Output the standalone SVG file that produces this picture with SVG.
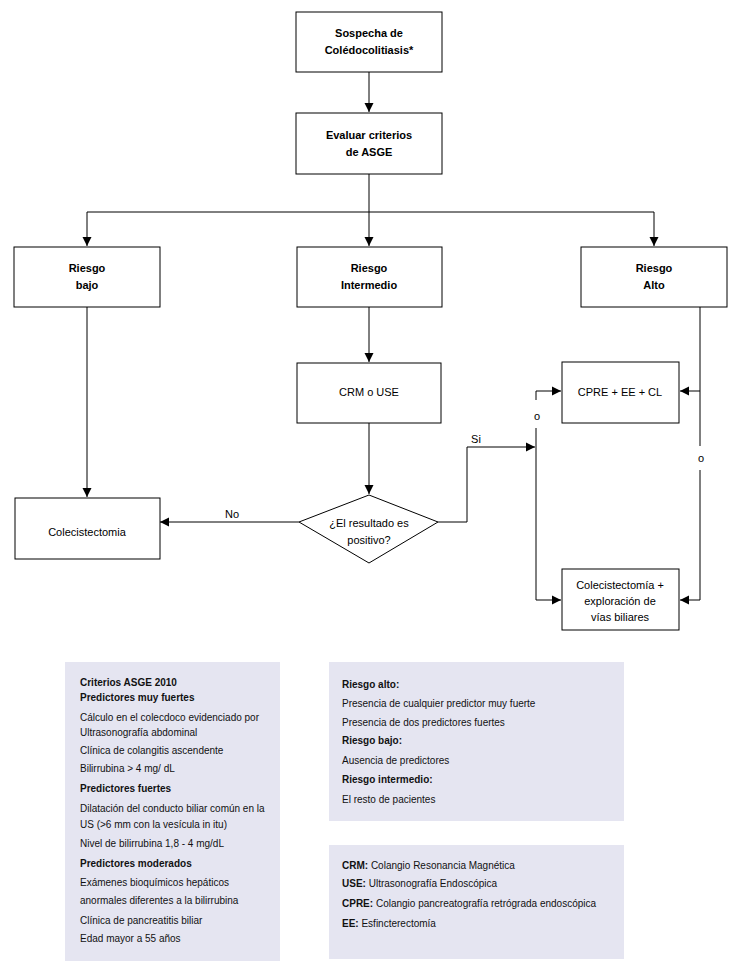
<svg xmlns="http://www.w3.org/2000/svg" width="739" height="974" viewBox="0 0 739 974">
<style>
.box{fill:#fff;stroke:#000;stroke-width:1}
.leg{fill:#E5E5F1;stroke:none}
.t{font-family:"Liberation Sans",Arial,sans-serif;font-size:11px;fill:#000;text-anchor:middle}
.b{font-weight:bold}
.l{font-family:"Liberation Sans",Arial,sans-serif;font-size:10px;fill:#111}
.c{fill:none;stroke:#000;stroke-width:1}
</style>
<defs>
<marker id="ah" markerUnits="userSpaceOnUse" markerWidth="10" markerHeight="10" refX="9" refY="5" orient="auto">
<path d="M0,0.5 L9,5 L0,9.5 z" fill="#000"/>
</marker>
</defs>
<rect width="739" height="974" fill="#fff"/>
<g id="connectors">
<path class="c" d="M369,72 V112" marker-end="url(#ah)"/>
<path class="c" d="M369,174 V246" marker-end="url(#ah)"/>
<path class="c" d="M369,212 H87 V246" marker-end="url(#ah)"/>
<path class="c" d="M369,212 H654 V246" marker-end="url(#ah)"/>
<path class="c" d="M87,307 V497" marker-end="url(#ah)"/>
<path class="c" d="M369,307 V362" marker-end="url(#ah)"/>
<path class="c" d="M369,423 V494" marker-end="url(#ah)"/>
<path class="c" d="M299,522 H160" marker-end="url(#ah)"/>
<path class="c" d="M438,522 H467 V447 H535" marker-end="url(#ah)"/>
<path class="c" d="M536,400 V391 H561" marker-end="url(#ah)"/>
<path class="c" d="M536,428 V600 H561" marker-end="url(#ah)"/>
<path class="c" d="M700,307 V446"/>
<path class="c" d="M700,391 H680" marker-end="url(#ah)"/>
<path class="c" d="M700,470 V600 H680" marker-end="url(#ah)"/>
<text class="t" x="232" y="518">No</text>
<text class="t" x="476" y="443">Si</text>
<text class="t" x="537" y="420">o</text>
<text class="t" x="701" y="462">o</text>
</g>
<g id="n_sospecha">
<rect class="box" x="296" y="12" width="146" height="60"/>
<text class="t b" x="369" y="37">Sospecha de</text>
<text class="t b" x="369" y="54">Colédocolitiasis*</text>
</g>
<g id="n_evaluar">
<rect class="box" x="296" y="113" width="146" height="61"/>
<text class="t b" x="369" y="139">Evaluar criterios</text>
<text class="t b" x="369" y="156">de ASGE</text>
</g>
<g id="n_bajo">
<rect class="box" x="14" y="247" width="146" height="60"/>
<text class="t b" x="87" y="272">Riesgo</text>
<text class="t b" x="87" y="289">bajo</text>
</g>
<g id="n_intermedio">
<rect class="box" x="297" y="247" width="145" height="60"/>
<text class="t b" x="369" y="272">Riesgo</text>
<text class="t b" x="369" y="289">Intermedio</text>
</g>
<g id="n_alto">
<rect class="box" x="581" y="247" width="146" height="60"/>
<text class="t b" x="654" y="272">Riesgo</text>
<text class="t b" x="654" y="289">Alto</text>
</g>
<g id="n_crm">
<rect class="box" x="297" y="363" width="144" height="60"/>
<text class="t" x="369" y="396">CRM o USE</text>
</g>
<g id="n_decision">
<polygon class="box" points="369,495 438,522 369,563 299,522"/>
<text class="t" x="369" y="527">¿El resultado es</text>
<text class="t" x="369" y="544">positivo?</text>
</g>
<g id="n_colecistectomia">
<rect class="box" x="15" y="498" width="145" height="61"/>
<text class="t" x="87" y="536">Colecistectomia</text>
</g>
<g id="n_cpre">
<rect class="box" x="562" y="362" width="117" height="61"/>
<text class="t" x="620" y="396">CPRE + EE + CL</text>
</g>
<g id="n_colexp">
<rect class="box" x="562" y="569" width="117" height="61"/>
<text class="t" x="620" y="589">Colecistectomía +</text>
<text class="t" x="620" y="605">exploración de</text>
<text class="t" x="620" y="621">vías biliares</text>
</g>
<g id="legend_criterios">
<rect class="leg" x="65" y="662" width="215" height="299"/>
<text class="l b" x="80" y="686">Criterios ASGE 2010</text>
<text class="l b" x="80" y="701">Predictores muy fuertes</text>
<text class="l" x="80" y="721">Cálculo en el colecdoco evidenciado por</text>
<text class="l" x="80" y="736">Ultrasonografía abdominal</text>
<text class="l" x="80" y="754">Clínica de colangitis ascendente</text>
<text class="l" x="80" y="772">Bilirrubina &gt; 4 mg/ dL</text>
<text class="l b" x="80" y="792">Predictores fuertes</text>
<text class="l" x="80" y="812">Dilatación del conducto biliar común en la</text>
<text class="l" x="80" y="828">US (&gt;6 mm con la vesícula in itu)</text>
<text class="l" x="80" y="847">Nivel de bilirrubina 1,8 - 4 mg/dL</text>
<text class="l b" x="80" y="867">Predictores moderados</text>
<text class="l" x="80" y="886">Exámenes bioquímicos hepáticos</text>
<text class="l" x="80" y="904">anormales diferentes a la bilirrubina</text>
<text class="l" x="80" y="924">Clínica de pancreatitis biliar</text>
<text class="l" x="80" y="942">Edad mayor a 55 años</text>
</g>
<g id="legend_riesgo">
<rect class="leg" x="329" y="662" width="295" height="159"/>
<text class="l b" x="342" y="688">Riesgo alto:</text>
<text class="l" x="342" y="707">Presencia de cualquier predictor muy fuerte</text>
<text class="l" x="342" y="726">Presencia de dos predictores fuertes</text>
<text class="l b" x="342" y="744">Riesgo bajo:</text>
<text class="l" x="342" y="764">Ausencia de predictores</text>
<text class="l b" x="342" y="783">Riesgo intermedio:</text>
<text class="l" x="342" y="803">El resto de pacientes</text>
</g>
<g id="legend_abrev">
<rect class="leg" x="329" y="845" width="295" height="114"/>
<text class="l" x="342" y="869"><tspan class="b">CRM:</tspan> Colangio Resonancia Magnética</text>
<text class="l" x="342" y="887"><tspan class="b">USE:</tspan> Ultrasonografía Endoscópica</text>
<text class="l" x="342" y="907"><tspan class="b">CPRE:</tspan> Colangio pancreatografía retrógrada endoscópica</text>
<text class="l" x="342" y="927"><tspan class="b">EE:</tspan> Esfincterectomía</text>
</g>
</svg>
